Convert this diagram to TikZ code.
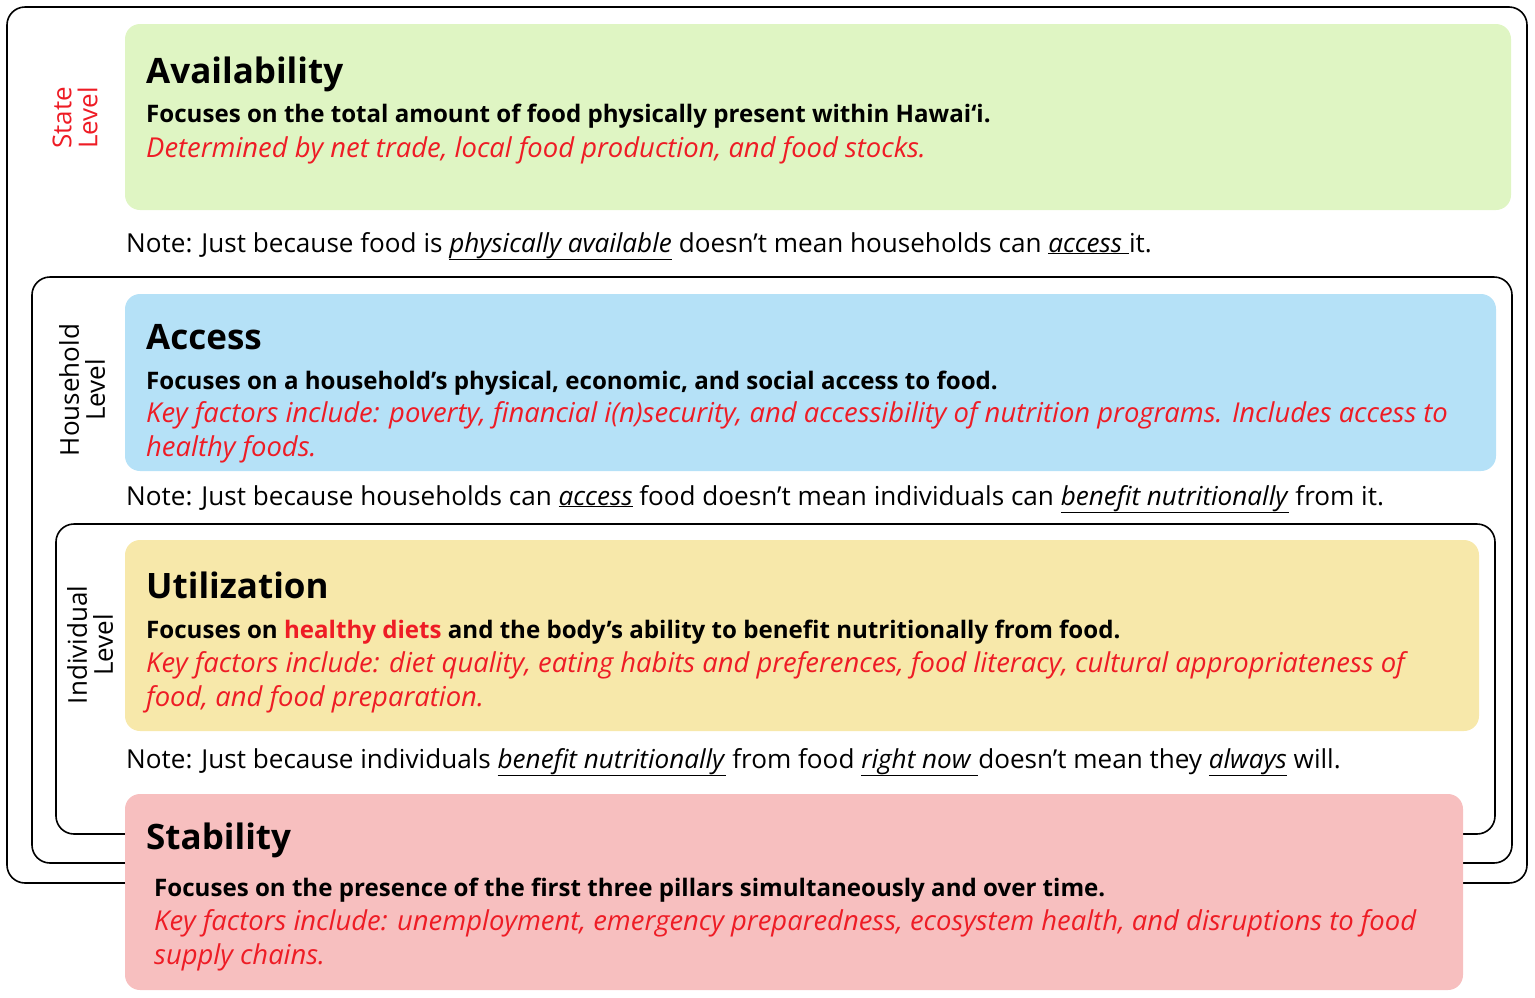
\documentclass[tikz,border=0pt]{standalone}
\usepackage{fontspec}
\setmainfont{Open Sans}
\usetikzlibrary{positioning}
\definecolor{gfill}{HTML}{DFF5C3}
\definecolor{bfill}{HTML}{B5E1F7}
\definecolor{yfill}{HTML}{F7E8AA}
\definecolor{rfill}{HTML}{F7BFBF}
\definecolor{redtxt}{HTML}{EE1C25}
\tikzset{
  frame/.style={draw=black, line width=1.6pt, rounded corners=18pt},
  pillar/.style={rounded corners=15pt},
  ttl/.style={anchor=base west, inner sep=0pt, font=\fontsize{35}{40}\selectfont\bfseries},
  bld/.style={anchor=base west, inner sep=0pt, font=\fontsize{24.1}{28}\selectfont\bfseries},
  itl/.style={anchor=base west, inner sep=0pt, text=redtxt, font=\fontsize{27.4}{34}\selectfont\itshape, align=left},
  note/.style={anchor=base west, inner sep=0pt, font=\fontsize{26.1}{30}\selectfont},
  lvl/.style={rotate=90, inner sep=0pt, align=center, font=\fontsize{26}{26}\selectfont},
}
\newcommand{\ul}[1]{\underline{\textit{#1}}}
\begin{document}
\begin{tikzpicture}[x=1pt,y=-1pt]
\useasboundingbox (0,0) rectangle (1535,997);
% level frames
\draw[frame] (7,7) rectangle (1527,883);
\draw[frame] (32,277) rectangle (1512,863);
\draw[frame] (56,524) rectangle (1495,834);
% pillar boxes
\fill[pillar, gfill] (125,24) rectangle (1511,210);
\fill[pillar, bfill] (125,294) rectangle (1496,471);
\fill[pillar, yfill] (125,540) rectangle (1479,731);
\fill[pillar, rfill] (125,794) rectangle (1463,990);
% level labels
\node[lvl, text=redtxt] (lstate) at (75,118) {State\\Level};
\node[lvl] (lhouse) at (82,390) {Household\\Level};
\node[lvl] (lind) at (90,645) {Individual\\Level};
% availability
\node[ttl] (t1) at (146,83) {Availability};
\node[bld] (b1) at (146,122) {Focuses on the total amount of food physically present within Hawai‘i.};
\node[itl] (i1) at (146,157) {Determined by net trade, local food production, and food stocks.};
\node[note] (n1) at (126,252) {Note: Just because food is \ul{physically available} doesn't mean households can \ul{access }it.};
% access
\node[ttl] (t2) at (146,349) {Access};
\node[bld] (b2) at (146,389) {Focuses on a household’s physical, economic, and social access to food.};
\node[itl] (i2) at (146,422) {Key factors include: poverty, financial i(n)security, and accessibility of nutrition programs. Includes access to};
\node[itl] (i2b) at (146,456) {healthy foods.};
\node[note] (n2) at (126,505) {Note: Just because households can \ul{access} food doesn't mean individuals can \ul{benefit nutritionally} from it.};
% utilization
\node[ttl] (t3) at (146,598) {Utilization};
\node[bld] (b3) at (146,638) {Focuses on \textcolor{redtxt}{healthy diets} and the body's ability to benefit nutritionally from food.};
\node[itl] (i3) at (146,672) {Key factors include: diet quality, eating habits and preferences, food literacy, cultural appropriateness of};
\node[itl] (i3b) at (146,706) {food, and food preparation.};
\node[note] (n3) at (126,768) {Note: Just because individuals \ul{benefit nutritionally} from food \ul{right now }doesn't mean they \ul{always} will.};
% stability
\node[ttl] (t4) at (146,849) {Stability};
\node[bld] (b4) at (154,896) {Focuses on the presence of the first three pillars simultaneously and over time.};
\node[itl] (i4) at (154,930) {Key factors include: unemployment, emergency preparedness, ecosystem health, and disruptions to food};
\node[itl] (i4b) at (154,964) {supply chains.};
\end{tikzpicture}
\end{document}
